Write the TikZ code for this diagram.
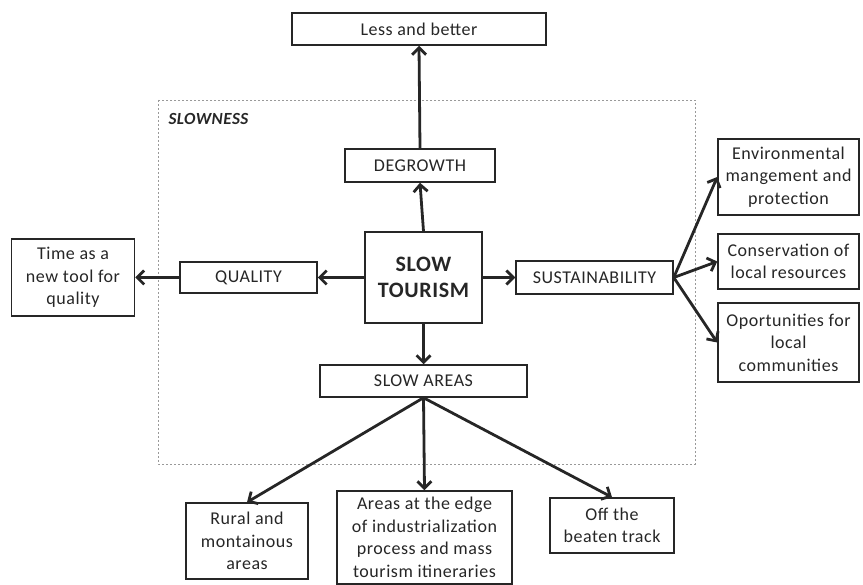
\documentclass[tikz,border=0pt]{standalone}
\usepackage{fontspec}
\setmainfont{Carlito}[LetterSpace=3]
\usepackage{tikz}
\usetikzlibrary{arrows.meta}

\begin{document}
\begin{tikzpicture}[x=1pt,y=-1pt,
  box/.style={draw=black!85,line width=1.5pt,inner sep=0pt,align=center,
    text=black!85,font=\fontsize{18}{22.5}\selectfont},
  arr/.style={draw=black!85,line width=2.8pt,-{Straight Barb[length=7pt,width=14pt]}},
  frame/.style={draw=black!40,line width=0.8pt,dash pattern=on 2pt off 2pt}]
  \useasboundingbox (0,0) rectangle (863,585);
  \draw[frame] (158,100) rectangle (695,464);
  \node (sl) [anchor=west,text=black!85,font=\fontsize{17}{20}\selectfont\bfseries\itshape] at (165,119) {SLOWNESS};
  \node (lb) [box,minimum width=254pt,minimum height=32pt] at (419,29) {Less and better};
  \node (dg) [box,minimum width=150pt,minimum height=33pt] at (420,165.5) {DEGROWTH};
  \node (st) [box,minimum width=117pt,minimum height=91pt,
    font=\fontsize{22}{26}\selectfont\bfseries] at (423.5,277.5) {SLOW\\TOURISM};
  \node (ql) [box,minimum width=137pt,minimum height=31pt] at (248.5,277.5) {QUALITY};
  \node (tm) [box,minimum width=123pt,minimum height=77pt] at (73,277.5) {Time as a\\new tool for\\quality};
  \node (su) [box,minimum width=157pt,minimum height=33pt] at (594.5,277.5) {SUSTAINABILITY};
  \node (em) [box,minimum width=141pt,minimum height=76pt] at (788.5,177) {Environmental\\mangement and\\protection};
  \node (cr) [box,minimum width=141pt,minimum height=55pt] at (788.5,261.5) {Conservation of\\local resources};
  \node (oc) [box,minimum width=141pt,minimum height=79pt] at (788.5,342.5) {Oportunities for\\local\\communities};
  \node (sa) [box,minimum width=207pt,minimum height=32pt] at (423.5,381) {SLOW AREAS};
  \node (rm) [box,minimum width=122pt,minimum height=76pt] at (247,541) {Rural and\\montainous\\areas};
  \node (ae) [box,minimum width=175pt,minimum height=93pt] at (424.5,537.5) {Areas at the edge\\of industrialization\\process and mass\\tourism itineraries};
  \node (ob) [box,minimum width=124pt,minimum height=55pt] at (612,525.5) {Off the\\beaten track};
  \draw[arr] (node cs:name=dg,anchor=north) -- (node cs:name=lb,anchor=south);
  \draw[arr] (node cs:name=st,anchor=north) -- (node cs:name=dg,anchor=south);
  \draw[arr] (node cs:name=st,anchor=west) -- (node cs:name=ql,anchor=east);
  \draw[arr] (node cs:name=ql,anchor=west) -- (node cs:name=tm,anchor=east);
  \draw[arr] (node cs:name=st,anchor=east) -- (node cs:name=su,anchor=west);
  \draw[arr] (node cs:name=su,anchor=east) -- (node cs:name=em,anchor=west);
  \draw[arr] (node cs:name=su,anchor=east) -- (node cs:name=cr,anchor=west);
  \draw[arr] (node cs:name=su,anchor=east) -- (node cs:name=oc,anchor=west);
  \draw[arr] (node cs:name=st,anchor=south) -- (node cs:name=sa,anchor=north);
  \draw[arr] (node cs:name=sa,anchor=south) -- (node cs:name=rm,anchor=north);
  \draw[arr] (node cs:name=sa,anchor=south) -- (node cs:name=ae,anchor=north);
  \draw[arr] (node cs:name=sa,anchor=south) -- (node cs:name=ob,anchor=north);
\end{tikzpicture}
\end{document}
